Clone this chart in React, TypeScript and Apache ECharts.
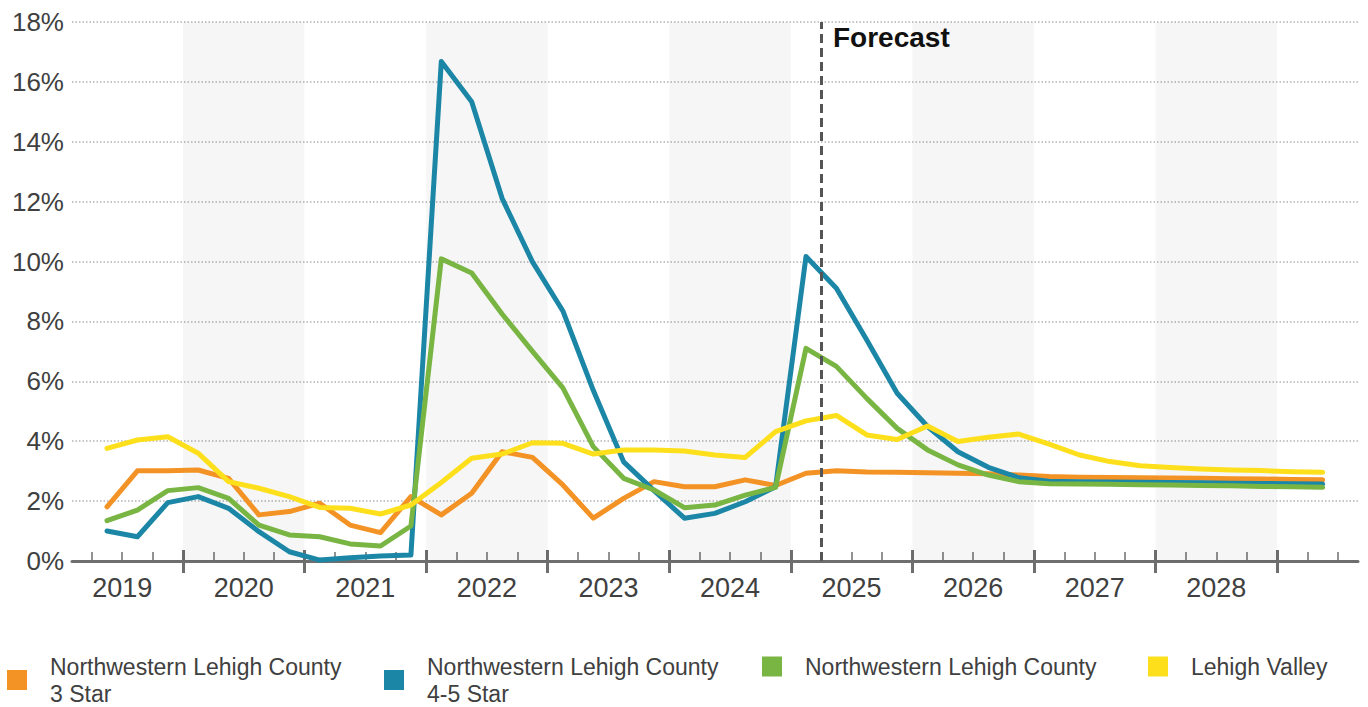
import React, { useEffect, useRef } from "react";
import * as echarts from "echarts";

// Quarterly observations, 2019 Q2 through 2029 Q2 (forecast from 2025 Q2)
const QUARTERS = [
  "2019Q2", "2019Q3", "2019Q4",
  "2020Q1", "2020Q2", "2020Q3", "2020Q4",
  "2021Q1", "2021Q2", "2021Q3", "2021Q4",
  "2022Q1", "2022Q2", "2022Q3", "2022Q4",
  "2023Q1", "2023Q2", "2023Q3", "2023Q4",
  "2024Q1", "2024Q2", "2024Q3", "2024Q4",
  "2025Q1", "2025Q2", "2025Q3", "2025Q4",
  "2026Q1", "2026Q2", "2026Q3", "2026Q4",
  "2027Q1", "2027Q2", "2027Q3", "2027Q4",
  "2028Q1", "2028Q2", "2028Q3", "2028Q4",
  "2029Q1", "2029Q2",
];

const NW_3_STAR = [
  1.81, 3.01, 3.01, 3.04, 2.76, 1.54, 1.65, 1.93, 1.2, 0.95, 2.15,
  1.54, 2.26, 3.65, 3.46, 2.54, 1.43, 2.09, 2.65, 2.48, 2.48, 2.71,
  2.52, 2.93, 3.01, 2.97, 2.96, 2.95, 2.93, 2.91, 2.87, 2.82, 2.8,
  2.79, 2.78, 2.77, 2.76, 2.75, 2.74, 2.72, 2.71,
];

const NW_45_STAR = [
  1.0, 0.81, 1.95, 2.15, 1.76, 0.98, 0.31, 0.03, 0.11, 0.17, 0.2,
  16.68, 15.34, 12.11, 9.99, 8.35, 5.7, 3.31, 2.35, 1.43, 1.59, 1.98,
  2.48, 10.17, 9.11, 7.38, 5.6, 4.49, 3.65, 3.13, 2.78, 2.66, 2.65,
  2.64, 2.63, 2.62, 2.61, 2.6, 2.59, 2.58, 2.57,
];

const NW_ALL = [
  1.35, 1.7, 2.35, 2.45, 2.09, 1.2, 0.87, 0.81, 0.57, 0.5, 1.17,
  10.09, 9.62, 8.25, 7.0, 5.78, 3.82, 2.76, 2.37, 1.78, 1.87, 2.2,
  2.46, 7.1, 6.5, 5.43, 4.43, 3.71, 3.21, 2.87, 2.65, 2.58, 2.57,
  2.56, 2.55, 2.54, 2.52, 2.51, 2.49, 2.48, 2.46,
];

const LEHIGH_VALLEY = [
  3.76, 4.04, 4.15, 3.6, 2.65, 2.43, 2.15, 1.79, 1.76, 1.57, 1.87,
  2.62, 3.43, 3.57, 3.95, 3.93, 3.57, 3.71, 3.71, 3.67, 3.54, 3.46,
  4.32, 4.68, 4.86, 4.21, 4.06, 4.51, 3.99, 4.13, 4.24, 3.9, 3.54,
  3.32, 3.18, 3.12, 3.07, 3.04, 3.02, 2.98, 2.96,
];

const SERIES_NAMES = [
  "Northwestern Lehigh County\n3 Star",
  "Northwestern Lehigh County\n4-5 Star",
  "Northwestern Lehigh County",
  "Lehigh Valley",
];
const SERIES_VALUES = [NW_3_STAR, NW_45_STAR, NW_ALL, LEHIGH_VALLEY];
const SERIES_COLORS = ["#f39325", "#1b86a6", "#78b543", "#fddf1c"];

const YEARS = ["2019", "2020", "2021", "2022", "2023", "2024", "2025", "2026", "2027", "2028"];
const SHADED_YEARS = ["2020", "2022", "2024", "2026", "2028"];
const FORECAST_START = "2025Q2";
const Y_TICKS = [0, 2, 4, 6, 8, 10, 12, 14, 16, 18];

const FONT = "'Liberation Sans', Arial, Helvetica, sans-serif";
const TEXT_COLOR = "#404040";
const AXIS_COLOR = "#6e6e6e";

// visible x-range of the time axis (in fractional years)
const X_MIN = 2019.087;
const X_MAX = 2029.666;

// centre of a quarter, in fractional years
const quarterCenter = (q: string) => {
  const year = Number(q.slice(0, 4));
  const n = Number(q.slice(5));
  return year + (n - 0.5) / 4;
};
const quarterStart = (q: string) => quarterCenter(q) - 0.125;

const LEGEND_LEFT = [7, 384, 762, 1148];

export default function App() {
  const ref = useRef<HTMLDivElement>(null);

  useEffect(() => {
    document.body.style.margin = "0";
    if (!ref.current) return;
    const chart = echarts.init(ref.current, undefined, { renderer: "svg" });

    const yearNums = YEARS.map(Number);
    const yearBoundaries = [...yearNums.slice(1), 2029].filter((v) => v > X_MIN && v < X_MAX);
    const quarterBoundaries: number[] = [];
    [...yearNums, 2029].forEach((y) => {
      [0.25, 0.5, 0.75].forEach((f) => {
        const v = y + f;
        if (v > X_MIN && v < X_MAX) quarterBoundaries.push(v);
      });
    });
    const labelPositions = yearNums.map((y) => y + 0.5);

    const baseX = {
      type: "value",
      min: X_MIN,
      max: X_MAX,
      position: "bottom",
      splitLine: { show: false },
      axisLabel: { show: false },
      axisLine: { show: false },
    };

    const lineSeries = SERIES_NAMES.map((name, i) => ({
      name,
      type: "line",
      xAxisIndex: 0,
      yAxisIndex: 0,
      z: 3,
      showSymbol: false,
      symbol: "none",
      color: SERIES_COLORS[i],
      lineStyle: { width: 5, color: SERIES_COLORS[i], cap: "round", join: "round" },
      data: QUARTERS.map((q, k) => [quarterCenter(q), SERIES_VALUES[i][k]]),
    }));

    const forecastX = quarterStart(FORECAST_START);

    chart.setOption({
      animation: false,
      backgroundColor: "#ffffff",
      textStyle: { fontFamily: FONT },
      grid: { left: 72, right: 10, top: 22, bottom: 146, containLabel: false },
      xAxis: [
        {
          ...baseX,
          axisLine: { show: true, lineStyle: { color: AXIS_COLOR, width: 3 } },
          axisTick: {
            show: true,
            customValues: yearBoundaries,
            length: 12,
            lineStyle: { color: AXIS_COLOR, width: 3 },
          },
          axisLabel: {
            show: true,
            customValues: labelPositions,
            formatter: (v: number) => String(Math.floor(v)),
            fontSize: 27,
            color: TEXT_COLOR,
            fontFamily: FONT,
            margin: 13,
          },
        },
        {
          ...baseX,
          axisTick: {
            show: true,
            inside: true,
            customValues: yearBoundaries,
            length: 11,
            lineStyle: { color: AXIS_COLOR, width: 3 },
          },
        },
        {
          ...baseX,
          axisTick: {
            show: true,
            inside: true,
            customValues: quarterBoundaries,
            length: 9,
            lineStyle: { color: AXIS_COLOR, width: 1.5 },
          },
        },
      ],
      yAxis: {
        type: "value",
        min: Y_TICKS[0],
        max: Y_TICKS[Y_TICKS.length - 1],
        interval: Y_TICKS[1] - Y_TICKS[0],
        axisLine: { show: false },
        axisTick: { show: false },
        axisLabel: {
          formatter: "{value}%",
          fontSize: 26,
          color: TEXT_COLOR,
          fontFamily: FONT,
          margin: 8,
        },
        splitLine: {
          show: true,
          lineStyle: { color: "#b3b3b3", width: 1.5, type: [1.5, 2] },
        },
      },
      legend: SERIES_NAMES.map((name, i) => ({
        data: [name],
        left: LEGEND_LEFT[i],
        top: 653,
        padding: 0,
        icon: "rect",
        itemWidth: 20,
        itemHeight: 20,
        selectedMode: false,
        textStyle: {
          fontSize: 23,
          lineHeight: 27,
          color: TEXT_COLOR,
          fontFamily: FONT,
          padding: [0, 0, 0, 18],
        },
      })),
      series: [
        {
          name: "year bands",
          type: "line",
          z: 1,
          data: [],
          silent: true,
          markArea: {
            silent: true,
            itemStyle: { color: "rgba(0,0,0,0.035)" },
            data: SHADED_YEARS.map((y) => [{ xAxis: Number(y) }, { xAxis: Number(y) + 1 }]),
          },
        },
        ...lineSeries,
        {
          name: "forecast divider",
          type: "line",
          z: 5,
          data: [],
          silent: true,
          markLine: {
            silent: true,
            symbol: "none",
            label: { show: false },
            lineStyle: { color: "#555555", width: 3, type: [9, 5] },
            data: [{ xAxis: forecastX }],
          },
        },
      ],
      graphic: [
        {
          type: "text",
          left: 833,
          top: 23,
          style: {
            text: "Forecast",
            fontSize: 28,
            fontWeight: "bold",
            fill: "#111111",
            fontFamily: FONT,
          },
        },
      ],
    });

    return () => chart.dispose();
  }, []);

  return <div ref={ref} style={{ width: 1368, height: 707 }} />;
}
